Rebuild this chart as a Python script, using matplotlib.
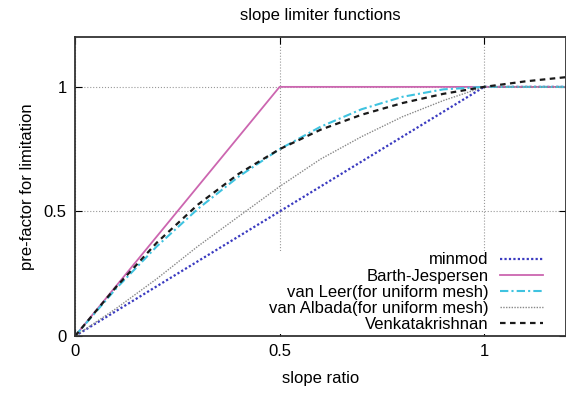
import matplotlib
matplotlib.use("Agg")
import matplotlib.pyplot as plt

plt.rcParams['font.family'] = ['Liberation Sans', 'DejaVu Sans']

# values
x = [0.0, 0.1, 0.2, 0.3, 0.4, 0.5, 0.6, 0.7, 0.8, 0.9, 1.0, 1.1, 1.2]
minmod = [0.0, 0.1, 0.2, 0.3, 0.4, 0.5, 0.6, 0.7, 0.8, 0.9, 1.0, 1.0, 1.0]
barth_x = [0.0, 0.5, 1.2]
barth = [0.0, 1.0, 1.0]
van_leer = [0.0, 0.19, 0.36, 0.51, 0.64, 0.75, 0.84, 0.91, 0.96, 0.99, 1.0, 1.0, 1.0]
van_albada = [0.0, 0.11, 0.23, 0.36, 0.48, 0.60, 0.71, 0.80, 0.88, 0.945, 1.0, 1.0, 1.0]
venkat = [0.0, 0.196, 0.375, 0.527, 0.651, 0.75, 0.828, 0.888, 0.935, 0.972, 1.0, 1.022, 1.039]

ticks = [0, 0.5, 1]
tick_labels = ['0', '0.5', '1']

fig = plt.figure(figsize=(5.66, 3.94), dpi=100)
ax = fig.add_axes([0.1325, 0.147, 0.8675, 0.759])

ax.plot(x, minmod, color='#3a3ac0', lw=1.6, ls=(0, (1, 1)), label='minmod')
ax.plot(barth_x, barth, color='#cc66b0', lw=1.3, label='Barth-Jespersen')
ax.plot(x, van_leer, color='#3fc3e0', lw=1.5, ls=(0, (4, 1.5, 1, 1.5)),
        label='van Leer(for uniform mesh)')
ax.plot(x, van_albada, color='#888888', lw=1.0, ls=(0, (1, 1)),
        label='van Albada(for uniform mesh)')
ax.plot(x, venkat, color='#1a1a1a', lw=1.6, ls=(0, (2.5, 2)),
        label='Venkatakrishnan')

ax.set_xlim(0, 1.2)
ax.set_ylim(0, 1.2)
ax.set_xticks(ticks)
ax.set_xticklabels(tick_labels)
ax.set_yticks(ticks)
ax.set_yticklabels(tick_labels)
ax.tick_params(direction='in', top=True, right=True, length=5, labelsize=12, pad=6)
ax.grid(True, color='#999999', ls=':', lw=0.8)
for s in ax.spines.values():
    s.set_linewidth(1.3)
    s.set_color('#333333')

ax.set_title('slope limiter functions', fontsize=12, pad=12)
ax.set_xlabel('slope ratio', fontsize=12, labelpad=8)
ax.set_ylabel('pre-factor for limitation', fontsize=12, labelpad=6)

leg = ax.legend(loc='lower right', bbox_to_anchor=(0.957, 0.008), fontsize=12,
                markerfirst=False, frameon=True, fancybox=False, borderpad=0.1,
                borderaxespad=0, labelspacing=0.07, handlelength=2.6,
                handletextpad=0.67)
leg.get_frame().set_facecolor('white')
leg.get_frame().set_edgecolor('none')
leg.get_frame().set_alpha(1)

fig.savefig('out.png', dpi=100)
